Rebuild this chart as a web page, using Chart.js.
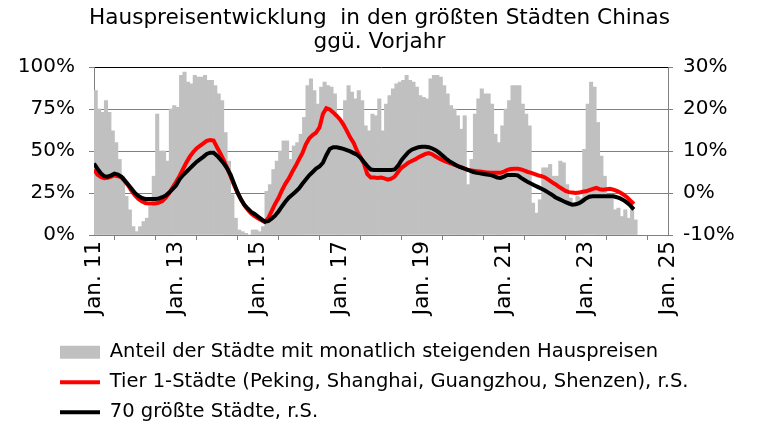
<!DOCTYPE html>
<html>
<head>
<meta charset="utf-8">
<script src="https://cdn.jsdelivr.net/npm/chart.js@4.4.1/dist/chart.umd.min.js"></script>
<style>
  html, body { margin: 0; padding: 0; background: #fff; }
</style>
</head>
<body>
<canvas id="chart" width="759" height="426"></canvas>
<script>
// months counted from Jan. 2011 (0) to Mar. 2024 (158)
const tickLabels = ["Jan. 11", "Jan. 13", "Jan. 15", "Jan. 17", "Jan. 19", "Jan. 21", "Jan. 23", "Jan. 25"];

// share of the 70 cities with rising prices month over month, in %
const shareRising = [
    86, 75, 73, 80, 73, 62, 55, 45, 35, 23, 15, 5,
    2, 5, 8, 10, 17, 35, 72, 50, 50, 44, 75, 77,
    76, 95, 97, 91, 90, 95, 94, 94, 95, 92, 92, 89,
    84, 80, 61, 44, 24, 10, 3, 2, 1, 0, 3, 3,
    2, 5, 26, 30, 39, 44, 50, 56, 56, 45, 53, 55,
    60, 70, 89, 93, 86, 78, 88, 91, 89, 88, 84, 70,
    66, 80, 89, 85, 81, 86, 80, 65, 62, 72, 71, 81,
    62, 78, 83, 87, 90, 91, 92, 95, 92, 91, 88, 83,
    82, 81, 93, 95, 95, 94, 89, 84, 77, 75, 71, 63,
    71, 30, 45, 72, 81, 87, 84, 84, 78, 60, 55, 65,
    75, 80, 89, 89, 89, 78, 72, 65, 19, 13, 21, 40,
    40, 42, 35, 35, 44, 43, 30, 22, 19, 23, 22, 51,
    78, 91, 88, 67, 47, 35, 24, 23, 15, 16, 11, 15,
    10, 16, 9
];

// y/y change, tier 1 cities, in %
const tier1 = [
    5.6, 4.4, 3.8, 3.5, 3.6, 3.9, 4.2, 4.0, 3.7, 2.8, 1.8, 0.5,
    -0.6, -1.4, -2.0, -2.4, -2.5, -2.5, -2.5, -2.3, -1.9, -1.1, 0.0, 1.3,
    2.6, 4.0, 5.6, 7.2, 8.6, 9.7, 10.6, 11.2, 11.8, 12.4, 12.6, 12.5,
    10.9, 9.4, 7.8, 5.9, 3.9, 1.9, 0.0, -1.5, -2.9, -4.0, -4.9, -5.5,
    -6.0, -6.5, -6.9, -6.0, -4.3, -2.6, -1.2, 0.6, 2.2, 3.4, 5.0, 6.4,
    8.0, 9.5, 11.6, 13.0, 13.8, 14.4, 15.6, 18.8, 20.2, 19.9, 19.2, 18.4,
    17.5, 16.3, 14.8, 13.2, 11.9, 10.0, 8.5, 7.0, 4.5, 3.7, 3.7, 3.6,
    3.7, 3.5, 3.2, 3.4, 3.9, 5.0, 6.0, 6.6, 7.2, 7.6, 8.0, 8.5,
    8.9, 9.3, 9.5, 9.2, 8.7, 8.2, 7.8, 7.5, 7.2, 6.9, 6.6, 6.3,
    6.0, 5.6, 5.4, 5.3, 5.2, 5.1, 5.0, 4.9, 4.8, 4.8, 4.8, 4.8,
    5.1, 5.5, 5.7, 5.8, 5.8, 5.6, 5.3, 5.0, 4.8, 4.5, 4.2, 4.0,
    3.7, 3.2, 2.6, 2.1, 1.5, 1.0, 0.5, 0.2, 0.1, 0.0, 0.1, 0.3,
    0.4, 0.7, 1.0, 1.2, 0.9, 0.8, 0.9, 1.0, 0.8, 0.5, 0.1, -0.4,
    -1.0, -1.8, -2.6
];

// y/y change, 70 largest cities, in %
const top70 = [
    7.0, 5.8, 4.7, 4.0, 3.9, 4.2, 4.6, 4.4, 3.9, 3.0, 2.0, 1.0,
    0.0, -0.7, -1.2, -1.4, -1.4, -1.4, -1.4, -1.3, -1.0, -0.6, 0.1, 0.9,
    1.8, 3.2, 4.2, 5.0, 5.8, 6.6, 7.4, 8.0, 8.6, 9.3, 9.6, 9.6,
    8.9, 8.0, 7.0, 5.8, 4.3, 2.2, 0.2, -1.5, -2.8, -3.7, -4.5, -5.0,
    -5.6, -6.2, -6.8, -6.7, -6.1, -5.4, -4.4, -3.2, -2.1, -1.1, -0.4, 0.3,
    1.1, 2.2, 3.2, 4.2, 5.0, 5.8, 6.3, 7.2, 9.0, 10.5, 10.9, 10.9,
    10.7, 10.5, 10.2, 9.9, 9.5, 9.1, 8.4, 7.4, 6.4, 5.6, 5.5, 5.5,
    5.5, 5.5, 5.5, 5.5, 5.6, 6.5, 7.8, 8.8, 9.7, 10.3, 10.6, 10.9,
    11.0, 11.0, 10.9, 10.6, 10.2, 9.6, 8.9, 8.2, 7.6, 7.1, 6.6, 6.2,
    5.9, 5.6, 5.3, 5.0, 4.8, 4.7, 4.5, 4.4, 4.3, 4.0, 3.7, 3.6,
    3.9, 4.3, 4.3, 4.3, 4.2, 3.6, 3.1, 2.6, 2.2, 1.8, 1.4, 1.0,
    0.6, 0.1, -0.4, -1.0, -1.4, -1.8, -2.2, -2.5, -2.8, -2.7, -2.4, -1.9,
    -1.3, -0.9, -0.8, -0.8, -0.8, -0.8, -0.8, -0.8, -0.8, -1.0, -1.3, -1.7,
    -2.3, -3.0, -3.9
];

const GREY = "#808080";
Chart.defaults.font.family = "'DejaVu Sans', Verdana, sans-serif";
Chart.defaults.color = "#000";

function legendItems(chart) {
    return chart.data.datasets.map((ds, i) => {
        const isBar = ds.type === "bar";
        const col = isBar ? ds.backgroundColor : ds.borderColor;
        return {
            text: ds.label,
            fillStyle: col,
            strokeStyle: col,
            lineWidth: isBar ? 0 : 4,
            pointStyle: isBar ? "rect" : "line",
            fontColor: "#000",
            hidden: false,
            datasetIndex: i
        };
    });
}

// legend sits indented under the plot, not at the canvas edge
const legendIndent = {
    id: "legendIndent",
    afterLayout(chart) {
        if (chart.legend) {
            chart.legend.left += 49.5;
            chart.legend.right += 49.5;
        }
    }
};

new Chart(document.getElementById("chart"), {
    type: "bar",
    data: {
        datasets: [
            {
                type: "bar",
                label: "Anteil der Städte mit monatlich steigenden Hauspreisen",
                data: shareRising.map((v, i) => ({ x: i + 0.5, y: v })),
                backgroundColor: "#c0c0c0",
                barPercentage: 1,
                categoryPercentage: 1,
                yAxisID: "y",
                order: 3
            },
            {
                type: "line",
                label: "Tier 1-Städte (Peking, Shanghai, Guangzhou, Shenzen), r.S.",
                data: tier1.map((v, i) => ({ x: i, y: v })),
                borderColor: "#ff0000",
                borderWidth: 4,
                pointRadius: 0,
                tension: 0,
                yAxisID: "y2",
                order: 2
            },
            {
                type: "line",
                label: "70 größte Städte, r.S.",
                data: top70.map((v, i) => ({ x: i, y: v })),
                borderColor: "#000000",
                borderWidth: 4,
                pointRadius: 0,
                tension: 0,
                yAxisID: "y2",
                order: 1
            }
        ]
    },
    plugins: [legendIndent],
    options: {
        responsive: false,
        animation: false,
        devicePixelRatio: 1,
        layout: { padding: { left: 0, right: 0, top: 0, bottom: -6 } },
        plugins: {
            title: {
                display: true,
                text: ["Hauspreisentwicklung  in den größten Städten Chinas", "ggü. Vorjahr"],
                color: "#000",
                font: { size: 21.6, weight: "normal", lineHeight: 24 / 21.6 },
                padding: { top: 6, bottom: 13 }
            },
            legend: {
                position: "bottom",
                align: "start",
                labels: {
                    font: { size: 19.5 },
                    usePointStyle: true,
                    pointStyleWidth: 40,
                    boxHeight: 13,
                    padding: 10.5,
                    generateLabels: legendItems
                }
            },
            tooltip: { enabled: false }
        },
        scales: {
            x: {
                type: "linear",
                min: 0,
                max: 168,
                offset: false,
                ticks: {
                    stepSize: 12,
                    autoSkip: false,
                    minRotation: 90,
                    maxRotation: 90,
                    padding: 1,
                    font: { size: 21.5 },
                    callback: v => (v % 24 === 0 ? tickLabels[v / 24] : "")
                },
                grid: { drawOnChartArea: false, color: GREY, tickLength: 5 },
                border: { color: GREY },
                afterFit: s => { s.height = 97; }
            },
            y: {
                position: "left",
                min: 0,
                max: 100,
                ticks: { stepSize: 25, padding: 14, font: { size: 20 }, callback: v => v + "%" },
                grid: {
                    color: c => (c.tick && c.tick.value === 100 ? "#000" : GREY),
                    tickColor: GREY,
                    tickLength: 5
                },
                border: { color: GREY },
                afterFit: s => { s.width = 94; }
            },
            y2: {
                position: "right",
                min: -10,
                max: 30,
                ticks: { stepSize: 10, padding: 10, font: { size: 20 }, callback: v => v + "%" },
                grid: { drawOnChartArea: false, color: GREY, tickLength: 5 },
                border: { color: GREY },
                afterFit: s => { s.width = 91; }
            }
        }
    }
});
</script>
</body>
</html>
